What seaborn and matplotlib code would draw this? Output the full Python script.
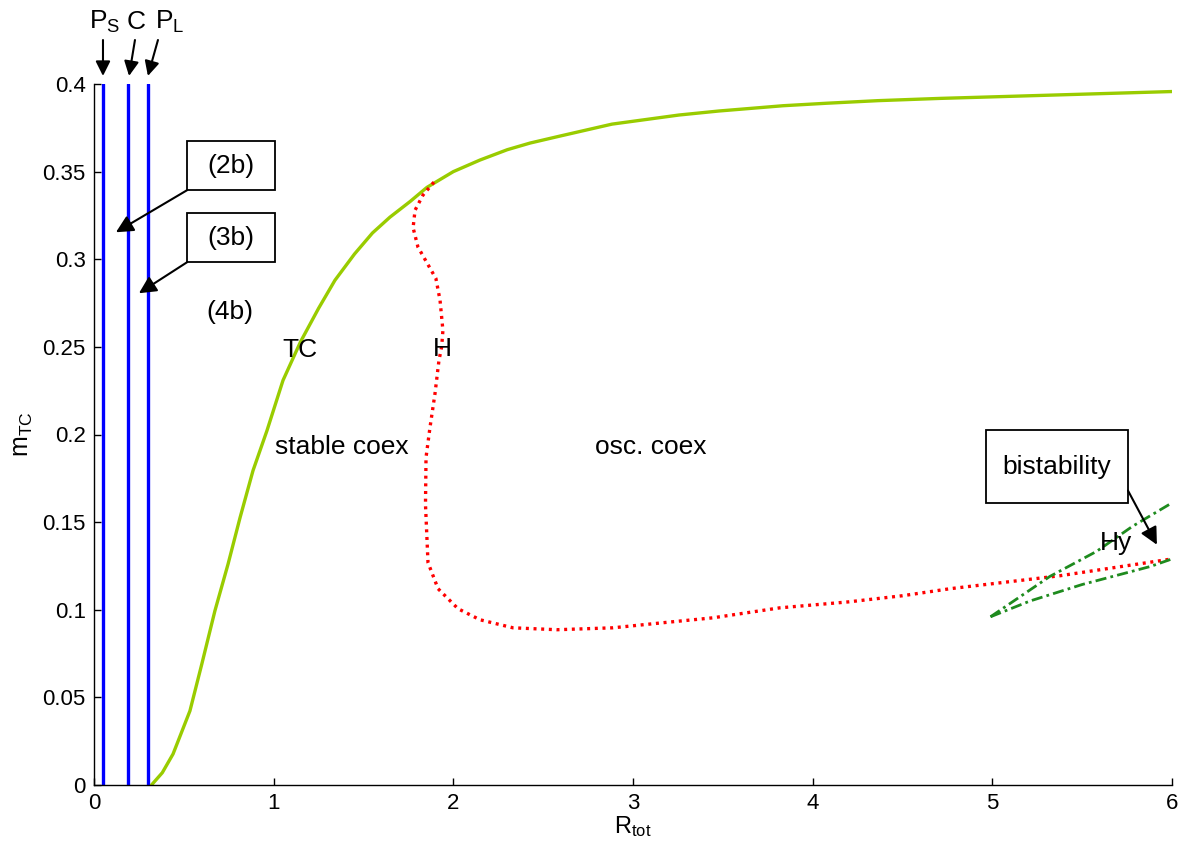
import matplotlib
matplotlib.use("Agg")
import matplotlib.pyplot as plt
import seaborn as sns
import pandas as pd
from matplotlib.patches import Rectangle

# ---------------- data ----------------
# vertical boundaries (x positions)
ps_x = [0.05, 0.05]
c_x = [0.19, 0.19]
pl_x = [0.30, 0.30]
vert_y = [0.0, 0.4]

# TC (transcritical) curve
tc_x = [0.32, 0.38, 0.44, 0.534, 0.60, 0.673, 0.746, 0.813, 0.885, 0.963, 1.052, 1.15, 1.25,
        1.341, 1.45, 1.55, 1.647, 1.76, 1.853, 2.0, 2.148, 2.30, 2.427, 2.594, 2.883,
        3.256, 3.479, 3.835, 4.074, 4.364, 4.714, 4.915, 6.0]
tc_y = [0.0, 0.007, 0.0177, 0.0423, 0.069, 0.0994, 0.126, 0.1526, 0.1794, 0.2023, 0.2309, 0.253, 0.272,
        0.288, 0.303, 0.315, 0.324, 0.333, 0.341, 0.350, 0.3566, 0.3625, 0.3663, 0.3703, 0.3771,
        0.3823, 0.3846, 0.3876, 0.3890, 0.3905, 0.3918, 0.3924, 0.3957]

# Hopf curve
h_x = [1.892, 1.831, 1.787, 1.776, 1.803, 1.853, 1.903, 1.926, 1.942, 1.935, 1.92, 1.898,
       1.87, 1.848, 1.845, 1.859, 1.915, 2.026, 2.148, 2.332, 2.577, 2.889, 3.167, 3.445,
       3.818, 4.2, 4.5, 4.764, 5.376, 6.0]
h_y = [0.344, 0.3366, 0.328, 0.318, 0.307, 0.298, 0.289, 0.2766, 0.2594, 0.250, 0.2423, 0.2234,
       0.204, 0.1869, 0.160, 0.1269, 0.112, 0.1006, 0.0943, 0.0897, 0.0886, 0.0897, 0.0926, 0.0954,
       0.1011, 0.1045, 0.108, 0.112, 0.1194, 0.129]

# Hysteresis (bistability) branches
hy_low_x = [4.99, 5.21, 5.50, 5.88, 6.0]
hy_low_y = [0.096, 0.105, 0.1144, 0.1247, 0.129]
hy_up_x = [4.99, 5.32, 5.58, 5.78, 6.0]
hy_up_y = [0.096, 0.119, 0.1333, 0.1476, 0.161]

x_ticks = [0, 1, 2, 3, 4, 5, 6]
y_ticks = [0, 0.05, 0.1, 0.15, 0.2, 0.25, 0.3, 0.35, 0.4]
y_tick_labels = ["0", "0.05", "0.1", "0.15", "0.2", "0.25", "0.3", "0.35", "0.4"]

# ---------------- style ----------------
sns.set_theme(style="ticks")
plt.rcParams["font.family"] = ["Liberation Sans", "DejaVu Sans"]
plt.rcParams["mathtext.default"] = "regular"
plt.rcParams["text.color"] = "black"
plt.rcParams["axes.labelcolor"] = "black"
plt.rcParams["xtick.color"] = "black"
plt.rcParams["ytick.color"] = "black"

fig = plt.figure(figsize=(11.89, 8.43), dpi=100)
ax = fig.add_axes([94 / 1189, 1 - 785 / 843, (1172 - 94) / 1189, (785 - 84) / 843])

def line(x, y, **kw):
    df = pd.DataFrame({"x": x, "y": y})
    sns.lineplot(data=df, x="x", y="y", ax=ax, sort=False, estimator=None, **kw)

blue = "#0000FF"
for xs in (ps_x, c_x, pl_x):
    line(xs, vert_y, color=blue, linewidth=2.4)

line(tc_x, tc_y, color="#99CC00", linewidth=2.4)
line(h_x, h_y, color="#FF0000", linewidth=2.4, dashes=(0.9, 1.4))
line(hy_low_x, hy_low_y, color="#1E8B1E", linewidth=2.0, dashes=(4, 1.5, 1, 1.5))
line(hy_up_x, hy_up_y, color="#1E8B1E", linewidth=2.0, dashes=(4, 1.5, 1, 1.5))

ax.set_xlim(0, 6)
ax.set_ylim(0, 0.4)
ax.set_xticks(x_ticks)
ax.set_xticklabels([str(t) for t in x_ticks])
ax.set_yticks(y_ticks)
ax.set_yticklabels(y_tick_labels)
ax.tick_params(direction="in", length=5, width=1, labelsize=16, colors="black", pad=6)
sns.despine(ax=ax)
for s in ("left", "bottom"):
    ax.spines[s].set_linewidth(1.0)
    ax.spines[s].set_color("black")

ax.set_xlabel("R$_{tot}$", fontsize=17, labelpad=0)
ax.set_ylabel("m$_{TC}$", fontsize=18, labelpad=5)

fs = 19
# labelled boxes with arrows
box_specs = [
    ("(2b)", (0.518, 0.3394), 0.489, 0.028, (0.122, 0.3154)),
    ("(3b)", (0.518, 0.2983), 0.489, 0.028, (0.25, 0.2806)),
    ("bistability", (4.965, 0.1611), 0.79, 0.0412, None),
]
for txt, (bx, by), bw, bh, tip in box_specs:
    ax.add_patch(Rectangle((bx, by), bw, bh, facecolor="white", edgecolor="black",
                           linewidth=1.3, zorder=5))
    ax.text(bx + bw / 2, by + bh / 2, txt, ha="center", va="center", fontsize=fs, zorder=6)
    if tip is not None:
        ax.annotate("", xy=tip, xytext=(bx, by),
                    arrowprops=dict(arrowstyle="-|>", mutation_scale=26, lw=1.5,
                                    color="black", shrinkA=0, shrinkB=0), zorder=6)

ax.annotate("", xy=(5.916, 0.1371), xytext=(5.755, 0.168),
            arrowprops=dict(arrowstyle="-|>", mutation_scale=26, lw=1.5,
                            color="black", shrinkA=0, shrinkB=0), zorder=6)

# region labels
ax.text(0.757, 0.2697, "(4b)", ha="center", va="center", fontsize=fs)
ax.text(1.147, 0.248, "TC", ha="center", va="center", fontsize=fs)
ax.text(1.937, 0.2486, "H", ha="center", va="center", fontsize=fs)
ax.text(1.38, 0.1926, "stable coex", ha="center", va="center", fontsize=fs)
ax.text(3.10, 0.1926, "osc. coex", ha="center", va="center", fontsize=fs)
ax.text(5.69, 0.1383, "Hy", ha="center", va="center", fontsize=fs)

# top labels with arrows
top_labels = [
    ("P$_S$", 0.061, (0.05, 0.4251), (0.05, 0.4046)),
    ("C", 0.234, (0.228, 0.4251), (0.195, 0.4046)),
    ("P$_L$", 0.423, (0.356, 0.4251), (0.30, 0.4046)),
]
for txt, tx, tail, tip in top_labels:
    ax.text(tx, 0.4354, txt, ha="center", va="center", fontsize=fs, clip_on=False)
    ax.annotate("", xy=tip, xytext=tail, annotation_clip=False,
                arrowprops=dict(arrowstyle="-|>", mutation_scale=22, lw=1.5,
                                color="black", shrinkA=0, shrinkB=0))

fig.savefig("out.png", dpi=100, facecolor="white")
